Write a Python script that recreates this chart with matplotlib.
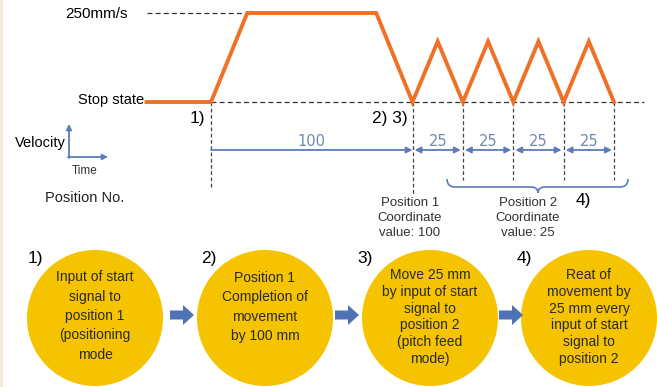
import matplotlib.pyplot as plt
import matplotlib.transforms as mtransforms
from matplotlib.patches import Circle, FancyArrow, PathPatch
from matplotlib.path import Path

plt.rcParams['font.family'] = ['Liberation Sans', 'DejaVu Sans']

# values
moves_mm = [100, 25, 25, 25, 25]
move_labels = ['100', '25', '25', '25', '25']
feed_speed = 250      # mm/s for position 1
pitch_peak = 170      # mm/s, top of each 25 mm pitch move as drawn
ramp_mm = 18          # accel / decel part of the 100 mm move
idle_mm = 32          # stop state drawn before the start signal

step_labels = ['1)', '2)', '3)', '4)']
step_texts = ['Input of start\nsignal to\nposition 1\n(positioning\nmode',
              'Position 1\nCompletion of\nmovement\nby 100 mm',
              'Move 25 mm\nby input of start\nsignal to\nposition 2\n(pitch feed\nmode)',
              'Reat of\nmovement by\n25 mm every\ninput of start\nsignal to\nposition 2']

orange = '#F07028'
blue = '#5A7CBD'
yellow = '#F6C300'

# velocity profile built from the moves
xs = [-idle_mm, 0]
vs = [0, 0]
edges = [0]
for i, m in enumerate(moves_mm):
    start = edges[-1]
    if i == 0:
        xs += [start + ramp_mm, start + m - ramp_mm, start + m]
        vs += [feed_speed, feed_speed, 0]
    else:
        xs += [start + m / 2, start + m]
        vs += [pitch_peak, 0]
    edges.append(start + m)

fig = plt.figure(figsize=(6.57, 3.87), dpi=100)

# pixel axes for the layout, velocity axes on top of it
ax = fig.add_axes([0, 0, 1, 1])
ax.set_xlim(0, 657)
ax.set_ylim(387, 0)
ax.axis('off')

x0, px_mm = 211, 2.015
v0, px_v = 102, 0.356
axv = fig.add_axes([0, 0, 1, 1], facecolor='none')
axv.set_xlim(-x0 / px_mm, (657 - x0) / px_mm)
axv.set_ylim(-(387 - v0) / px_v, v0 / px_v)
axv.axis('off')
blend = mtransforms.blended_transform_factory(axv.transData, ax.transData)

ax.axvline(1, color='#F2EADB', lw=2.5)

# dashed guides
dash = dict(color='#333333', lw=0.9, linestyle=(0, (4, 2.5)), zorder=1)
axv.hlines(feed_speed, -idle_mm, ramp_mm, **dash)
axv.hlines(0, 0, edges[-1] + 15, **dash)
drop_px = [187, 195, 180, 180, 180, 180]
for e, y1 in zip(edges, drop_px):
    axv.plot([e, e], [v0, y1], transform=blend, color='#444444', lw=0.9,
             linestyle=(0, (3, 2)), zorder=1)

axv.plot(xs, vs, color=orange, lw=2.8, solid_joinstyle='miter', zorder=3)

# dimension arrows
dim_y = 150
for i, m in enumerate(moves_mm):
    a, b = edges[i], edges[i + 1]
    if i == 0:
        ap = dict(arrowstyle='-|>', color=blue, lw=1.3, mutation_scale=9,
                  shrinkA=0, shrinkB=0)
    else:
        ap = dict(arrowstyle='<|-|>', color=blue, lw=1.3, mutation_scale=9,
                  shrinkA=1.5, shrinkB=1.5)
    axv.annotate('', xy=(b, dim_y), xytext=(a, dim_y), xycoords=blend,
                 textcoords=blend, arrowprops=ap)
    axv.text((a + b) / 2, dim_y - 9, move_labels[i], transform=blend,
             ha='center', va='center', fontsize=10.5, color='#7286B5',
             family='DejaVu Sans')

# brace under the pitch moves
verts = [(447, 179), (447, 187), (455, 187), (531, 187), (538, 187), (538, 193),
         (538, 187), (545, 187), (620, 187), (628, 187), (628, 179)]
codes = [Path.MOVETO, Path.CURVE3, Path.CURVE3, Path.LINETO, Path.CURVE3, Path.CURVE3,
         Path.CURVE3, Path.CURVE3, Path.LINETO, Path.CURVE3, Path.CURVE3]
ax.add_patch(PathPatch(Path(verts, codes), fill=False, ec=blue, lw=1.2))

# labels of the top diagram
ax.text(128, 14, '250mm/s', ha='right', va='center', fontsize=11)
ax.text(144, 100, 'Stop state', ha='right', va='center', fontsize=10.5)
ax.text(205, 119, '1)', ha='right', va='center', fontsize=12.5)
ax.text(408, 118, '2) 3)', ha='right', va='center', fontsize=12.5)
ax.text(583, 201, '4)', ha='center', va='center', fontsize=12.5)
ax.text(66, 143, 'Velocity', ha='right', va='center', fontsize=10.5)
ax.text(85, 171, 'Time', ha='center', va='center', fontsize=8.5, color='#333333')
ax.text(85, 198, 'Position No.', ha='center', va='center', fontsize=10.5,
        color='#222222')
ax.annotate('', xy=(69, 124), xytext=(69, 158),
            arrowprops=dict(arrowstyle='-|>', color=blue, lw=1.3, mutation_scale=8,
                            shrinkA=0, shrinkB=0))
ax.annotate('', xy=(108, 157), xytext=(68, 157),
            arrowprops=dict(arrowstyle='-|>', color=blue, lw=1.3, mutation_scale=8,
                            shrinkA=0, shrinkB=0))
ax.text(410, 218, 'Position 1\nCoordinate\nvalue: 100', ha='center', va='center',
        fontsize=9.5, linespacing=1.29, color='#333333')
ax.text(528, 218, 'Position 2\nCoordinate\nvalue: 25', ha='center', va='center',
        fontsize=9.5, linespacing=1.29, color='#333333')

# step circles with arrows between them
centers = [95, 265, 430, 589]
text_y = [316, 307, 317, 317]
spacing = [1.48, 1.48, 1.25, 1.25]
label_x = [35, 209, 365, 524]
for i in range(4):
    ax.add_patch(Circle((centers[i], 318), 68, color=yellow, lw=0))
    ax.text(centers[i], text_y[i], step_texts[i], ha='center', va='center',
            fontsize=10, linespacing=spacing[i], color='#2A2A2A')
    ax.text(label_x[i], 258, step_labels[i], ha='center', va='center',
            fontsize=12.5, zorder=4,
            bbox=dict(boxstyle='square,pad=0.15', fc='white', ec='none'))
for xa in [170, 335, 499]:
    ax.add_patch(FancyArrow(xa, 315, 24, 0, width=9, head_width=20,
                            head_length=11, length_includes_head=True,
                            color='#4F72B6', lw=0))

fig.savefig('out.png', dpi=100)
